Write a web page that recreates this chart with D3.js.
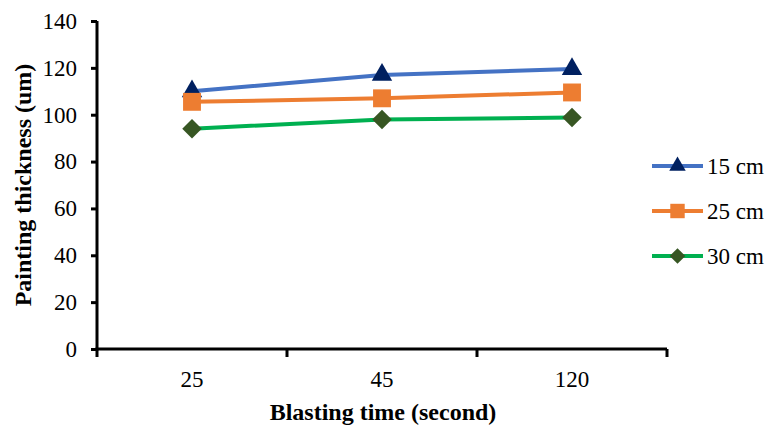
<!DOCTYPE html>
<html>
<head>
<meta charset="utf-8">
<script src="https://cdn.jsdelivr.net/npm/d3@7"></script>
<style>
body{margin:0;background:#fff;}
</style>
</head>
<body>
<div id="chart"></div>
<script>
var categories = ["25", "45", "120"];
var seriesNames = ["15 cm", "25 cm", "30 cm"];
var values15 = [110, 117, 119.5];
var values25 = [105.5, 107, 109.5];
var values30 = [94, 98, 98.8];
var yTicks = [0, 20, 40, 60, 80, 100, 120, 140];

var FONT = "Liberation Serif";
var W = 769, H = 429;
var margin = {t:21, l:97, b:80, r:102};
var width = W - margin.l - margin.r,
    height = H - margin.t - margin.b;

var svg = d3.select("#chart").append("svg")
    .attr("width", W).attr("height", H);

var g = svg.append("g")
    .attr("transform", "translate(" + margin.l + "," + margin.t + ")");

var x = d3.scaleBand().domain(categories).range([0, width]);
var y = d3.scaleLinear().domain([0, 140]).range([height, 0]);

var series = [
    {name: seriesNames[0], values: values15, line: "#4472C4", mark: "#002060", sym: d3.symbolTriangle, size: 180, rot: 0},
    {name: seriesNames[1], values: values25, line: "#ED7D31", mark: "#ED7D31", sym: d3.symbolSquare, size: 320, rot: 0},
    {name: seriesNames[2], values: values30, line: "#00B050", mark: "#375623", sym: d3.symbolSquare, size: 190, rot: 45}
];

// y axis
var yAxis = g.append("g")
    .call(d3.axisLeft(y).tickValues(yTicks).tickSize(6).tickPadding(14));
yAxis.attr("font-family", FONT);
yAxis.select(".domain").attr("stroke", "#000").attr("stroke-width", 3).attr("d", "M0," + (height + 1.5) + "V0");
yAxis.selectAll(".tick line").attr("stroke-width", 3);
yAxis.selectAll(".tick text").attr("font-size", 23).attr("fill", "#000");

// x axis
var xAxis = g.append("g")
    .attr("transform", "translate(0," + height + ")")
    .call(d3.axisBottom(x).tickSize(0).tickPadding(22));
xAxis.attr("font-family", FONT);
xAxis.select(".domain").attr("stroke", "#000").attr("stroke-width", 3).attr("d", "M-1.5,0H" + width);
xAxis.selectAll(".tick text").attr("font-size", 23).attr("fill", "#000");
var bounds = categories.map(function(c){ return x(c); }).concat([width]);
xAxis.selectAll(".btick").data(bounds).enter().append("line")
    .attr("x1", function(d){ return d; }).attr("x2", function(d){ return d; })
    .attr("y1", 0).attr("y2", 8)
    .attr("stroke", "#000").attr("stroke-width", 3);

// titles
svg.append("text")
    .attr("x", margin.l + width / 2 + 1).attr("y", 420)
    .attr("text-anchor", "middle")
    .attr("font-family", FONT)
    .attr("font-size", 24).attr("font-weight", "bold")
    .text("Blasting time (second)");

svg.append("text")
    .attr("transform", "translate(31," + (margin.t + height / 2) + ") rotate(-90)")
    .attr("text-anchor", "middle")
    .attr("font-family", FONT)
    .attr("font-size", 24).attr("font-weight", "bold")
    .text("Painting thickness (um)");

var line = d3.line()
    .x(function(d, i){ return x(categories[i]) + x.bandwidth() / 2; })
    .y(function(d){ return y(d); });

series.forEach(function(s){
    g.append("path")
        .attr("d", line(s.values))
        .attr("fill", "none")
        .attr("stroke", s.line)
        .attr("stroke-width", 4);
    g.selectAll(null).data(s.values).enter().append("path")
        .attr("d", d3.symbol().type(s.sym).size(s.size))
        .attr("transform", function(d, i){
            return "translate(" + (x(categories[i]) + x.bandwidth() / 2) + "," + y(d) + ") rotate(" + s.rot + ")";
        })
        .attr("fill", s.mark);
});

// legend
var legend = svg.append("g").attr("transform", "translate(652,166)");
series.forEach(function(s, i){
    var row = legend.append("g").attr("transform", "translate(0," + (i * 45) + ")");
    row.append("line").attr("x1", 0).attr("x2", 51).attr("y1", 0).attr("y2", 0)
        .attr("stroke", s.line).attr("stroke-width", 4);
    row.append("path")
        .attr("d", d3.symbol().type(s.sym).size(s.size * 0.65))
        .attr("transform", "translate(25.5,0) rotate(" + s.rot + ")")
        .attr("fill", s.mark);
    row.append("text").attr("x", 55).attr("y", 8)
        .attr("font-family", FONT)
        .attr("font-size", 23).attr("fill", "#000")
        .text(s.name);
});
</script>
</body>
</html>
